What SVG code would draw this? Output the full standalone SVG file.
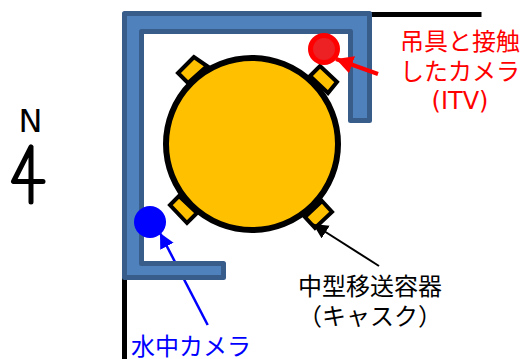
<svg xmlns="http://www.w3.org/2000/svg" width="522" height="359" viewBox="0 0 522 359">
<style>
text{font-family:"Noto Sans CJK JP","Noto Sans",sans-serif;font-size:24px;text-anchor:middle}
.latin{font-family:"DejaVu Sans",sans-serif}
.lug{fill:#ffc000;stroke:#000;stroke-width:4;stroke-linejoin:miter}
</style>
<defs>
<marker id="hr" markerUnits="userSpaceOnUse" markerWidth="20" markerHeight="18" refX="17" refY="9" orient="auto"><path d="M0 0L17 9L0 18Z" fill="#ff0000"/></marker>
<marker id="hb" markerUnits="userSpaceOnUse" markerWidth="20" markerHeight="18" refX="15" refY="7.500" orient="auto"><path d="M0 0L15 7.500L0 15Z" fill="#0000ff"/></marker>
<marker id="hk" markerUnits="userSpaceOnUse" markerWidth="18" markerHeight="16" refX="15" refY="7.500" orient="auto"><path d="M0 0L15 7.500L0 15Z" fill="#000"/></marker>
</defs>
<g id="connectors" fill="none">
<path d="M124.500 278V359" stroke="#000" stroke-width="5"/>
<path d="M370 14.500H481.500" stroke="#000" stroke-width="5"/>
<path d="M207.700 325L160 233" stroke="#0000ff" stroke-width="2.500" marker-end="url(#hb)"/>
</g>
<g id="wall">
<path d="M124.500 13.500H369.500V120.500H350.500V31.500H141.500V263.500H223.500V277.500H124.500Z" fill="#4f81bd" stroke="#385d8a" stroke-width="5" stroke-linejoin="round"/>
</g>
<g id="cask">
<polygon class="lug" points="194,57 178,73 188,83 207,66"/>
<polygon class="lug" points="320,66 337,82 328,93 310,76"/>
<polygon class="lug" points="179,196 170,205 187,223 197,213"/>
<polygon class="lug" points="322,201 332,212 315,228 305,217"/>
<circle cx="252" cy="144" r="86" fill="#ffc000" stroke="#000" stroke-width="6"/>
</g>
<g id="itv-camera">
<circle cx="324" cy="49" r="13.500" fill="#ed2024" stroke="#ff0000" stroke-width="5"/>
</g>
<g id="underwater-camera">
<circle cx="150" cy="222" r="16" fill="#0000ff"/>
</g>
<g id="arrows" fill="none">
<path d="M378 74L336 59" stroke="#ff0000" stroke-width="4" marker-end="url(#hr)"/>
<path d="M379 266L313 224" stroke="#000" stroke-width="2" marker-end="url(#hk)"/>
</g>
<g id="north">
<text class="latin" x="30.500" y="132" style="font-size:32px">N</text>
<path d="M31 147L13.500 181.500H43M31 147V202" fill="none" stroke="#000" stroke-width="5" stroke-linecap="round" stroke-linejoin="round"/>
</g>
<g id="labels">
<text x="460" y="50" fill="#ff0000">吊具と接触</text>
<text x="460" y="80" fill="#ff0000">したカメラ</text>
<text class="latin" x="460" y="109" fill="#ff0000">(ITV)</text>
<text x="370" y="295" fill="#000">中型移送容器</text>
<text x="370" y="325" fill="#000">（キャスク）</text>
<text x="191" y="355" fill="#0000ff">水中カメラ</text>
</g>
</svg>
